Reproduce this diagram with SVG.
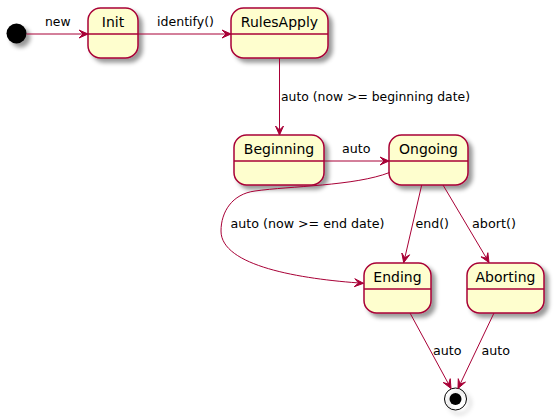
<svg xmlns="http://www.w3.org/2000/svg" width="555" height="419" viewBox="0 0 555 419">
<defs>
<filter id="sh" x="-1" y="-1" width="300%" height="300%">
<feGaussianBlur result="b" stdDeviation="2"/>
<feColorMatrix in="b" result="c" type="matrix" values="0 0 0 0 0 0 0 0 0 0 0 0 0 0 0 0 0 0 0.4 0"/>
<feOffset dx="4" dy="4" in="c" result="o"/>
<feBlend in="SourceGraphic" in2="o" mode="normal"/>
</filter>
</defs>
<style>
.st rect{fill:#FEFECE;stroke:#A80036;stroke-width:1.5}
.st line{stroke:#A80036;stroke-width:1.5}
.st text{font-family:"DejaVu Sans",sans-serif;font-size:14px;fill:#000;text-anchor:middle}
#edges line,#edges path{stroke:#A80036;stroke-width:1;fill:none}
#edges polygon{fill:#A80036;stroke:#A80036;stroke-width:1}
#edges text{font-family:"DejaVu Sans",sans-serif;font-size:13px;fill:#000}
</style>
<rect width="555" height="419" fill="#FFFFFF"/>
<g id="start"><circle cx="16.5" cy="33.5" r="10" fill="#000" filter="url(#sh)"/></g>
<g id="Init" class="st"><rect x="88" y="8" width="50" height="50" rx="12.5" filter="url(#sh)"/><line x1="88" y1="34" x2="138" y2="34"/><text x="113" y="26.5">Init</text></g>
<g id="RulesApply" class="st"><rect x="231" y="8" width="97" height="50" rx="12.5" filter="url(#sh)"/><line x1="231" y1="34" x2="328" y2="34"/><text x="279.5" y="26.5">RulesApply</text></g>
<g id="Beginning" class="st"><rect x="234" y="135" width="90" height="50" rx="12.5" filter="url(#sh)"/><line x1="234" y1="161" x2="324" y2="161"/><text x="279" y="153.5">Beginning</text></g>
<g id="Ongoing" class="st"><rect x="389" y="135" width="79" height="50" rx="12.5" filter="url(#sh)"/><line x1="389" y1="161" x2="468" y2="161"/><text x="428.5" y="153.5">Ongoing</text></g>
<g id="Ending" class="st"><rect x="364" y="263" width="67" height="50" rx="12.5" filter="url(#sh)"/><line x1="364" y1="289" x2="431" y2="289"/><text x="397.5" y="281.5">Ending</text></g>
<g id="Aborting" class="st"><rect x="467" y="263" width="77" height="50" rx="12.5" filter="url(#sh)"/><line x1="467" y1="289" x2="544" y2="289"/><text x="505.5" y="281.5">Aborting</text></g>
<g id="end"><circle cx="455.5" cy="399" r="11" fill="none" stroke="#000" stroke-width="1" filter="url(#sh)"/><circle cx="455.5" cy="399" r="6" fill="#000"/></g>
<g id="edges">
<line x1="26.5" y1="34" x2="88" y2="34"/><polygon points="88,34 79,30 83,34 79,38"/><text x="45" y="26" textLength="25.5" lengthAdjust="spacingAndGlyphs">new</text>
<line x1="138" y1="34" x2="231" y2="34"/><polygon points="231,34 222,30 226,34 222,38"/><text x="157" y="26" textLength="57" lengthAdjust="spacingAndGlyphs">identify()</text>
<line x1="279.5" y1="58" x2="279.5" y2="135"/><polygon points="279.5,135 275.5,126 279.5,130 283.5,126"/><text x="281" y="101" textLength="189" lengthAdjust="spacingAndGlyphs">auto (now &gt;= beginning date)</text>
<line x1="324" y1="161" x2="389" y2="161"/><polygon points="389,161 380,157 384,161 380,165"/><text x="342" y="153" textLength="28.5" lengthAdjust="spacingAndGlyphs">auto</text>
<path d="M389.5,172.5 C355,186 290,186 255,191 C232,194 221,212 221,231 C221,266 300,279 363.5,283.3"/><polygon points="363.5,283.3 354.25,286.68 358.5,282.96 354.79,278.7"/><text x="230.5" y="227.5" textLength="154" lengthAdjust="spacingAndGlyphs">auto (now &gt;= end date)</text>
<line x1="421.7" y1="185" x2="403.7" y2="262.7"/><polygon points="403.7,262.7 401.8,253 404.83,257.83 409.6,254.8"/><text x="415.5" y="227.5" textLength="33.5" lengthAdjust="spacingAndGlyphs">end()</text>
<line x1="443" y1="185" x2="489" y2="262.5"/><polygon points="489,262.5 480.97,256.8 486.45,258.2 487.85,252.72"/><text x="472" y="227.5" textLength="44" lengthAdjust="spacingAndGlyphs">abort()</text>
<line x1="410" y1="313" x2="451" y2="388.5"/><polygon points="451,388.5 443.18,382.5 448.61,384.1 450.22,378.68"/><text x="433" y="355" textLength="28.5" lengthAdjust="spacingAndGlyphs">auto</text>
<line x1="494" y1="313" x2="458" y2="388.5"/><polygon points="458,388.5 458.26,378.66 460.15,383.99 465.48,382.1"/><text x="481.5" y="355" textLength="28.5" lengthAdjust="spacingAndGlyphs">auto</text>
</g>
</svg>
